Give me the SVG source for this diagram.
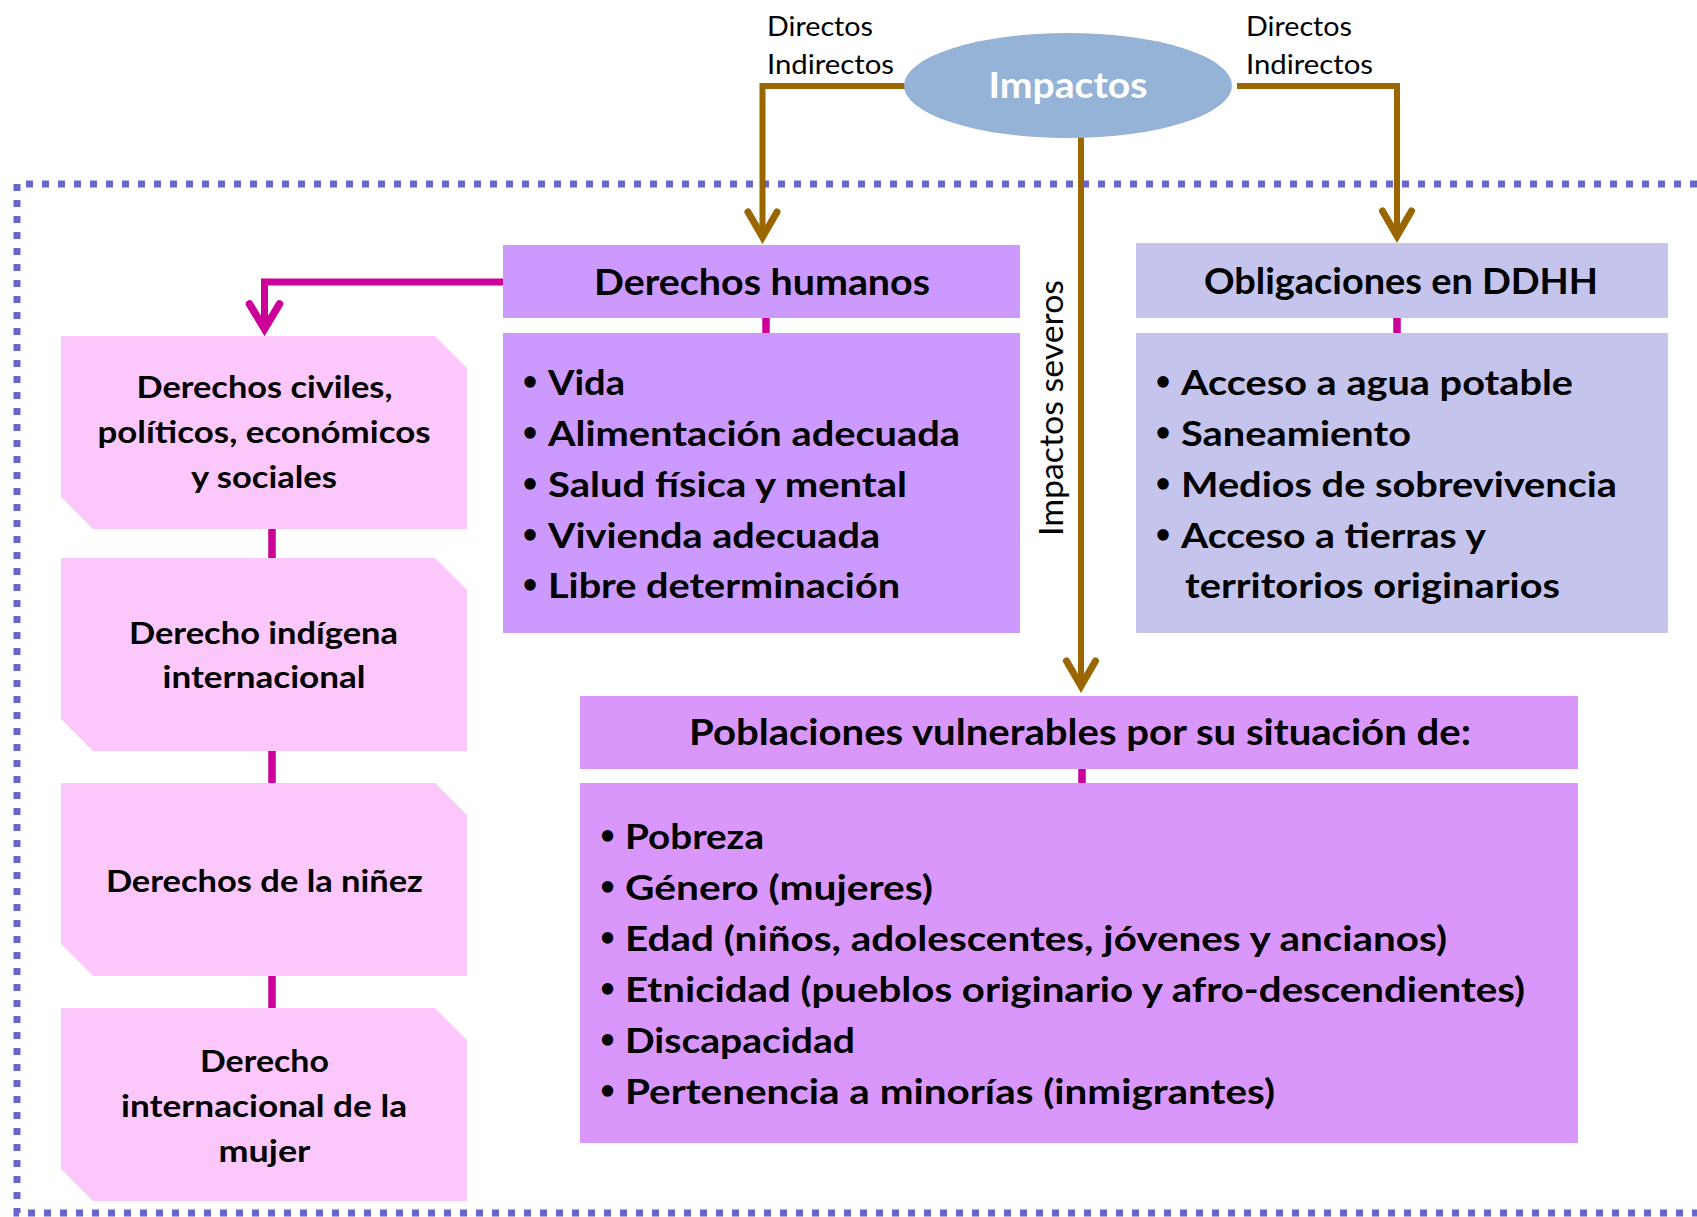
<svg xmlns="http://www.w3.org/2000/svg" width="1697" height="1217" viewBox="0 0 1697 1217">
<style>
.t{font-family:Lato,'Liberation Sans',sans-serif;fill:#000}
.bd{font-weight:700}
.hd{font-size:36px;font-weight:700;text-anchor:middle}
.li{font-size:35px;font-weight:700}
.bu{font-size:26px;font-weight:700}
.lb{font-size:30px;font-weight:700;text-anchor:middle}
.lab{font-size:26px}
.brown{fill:none;stroke:#996600;stroke-width:6}
.mag{fill:none;stroke:#CC0099;stroke-width:7}
.link{fill:none;stroke:#CC0099;stroke-width:7.5}
.lbox{fill:#FCC8FC}
</style>
<defs>
<marker id="arrB" markerUnits="userSpaceOnUse" markerWidth="60" markerHeight="60" refX="0" refY="0" orient="auto" overflow="visible">
<path d="M-25,-14.5 L0,0 L-25,14.5" fill="none" stroke="#996600" stroke-width="7" stroke-linecap="round" stroke-linejoin="miter"/>
</marker>
<marker id="arrM" markerUnits="userSpaceOnUse" markerWidth="60" markerHeight="60" refX="0" refY="0" orient="auto" overflow="visible">
<path d="M-25,-15 L0,0 L-25,15" fill="none" stroke="#CC0099" stroke-width="7.5" stroke-linecap="round" stroke-linejoin="miter"/>
</marker>
</defs>
<rect width="1697" height="1217" fill="#FFFFFF"/>
<path d="M1697,184 H17 V1213 H1697" fill="none" stroke="#6666CC" stroke-width="7" stroke-dasharray="7 9"/>

<g id="connectors">
<path class="brown" d="M905,86 H762.5 V237" marker-end="url(#arrB)"/>
<path class="brown" d="M1237,86 H1397 V236" marker-end="url(#arrB)"/>
<path class="brown" d="M1081,137 V686" marker-end="url(#arrB)"/>
<path class="mag" d="M503,282 H264.5 V329" marker-end="url(#arrM)"/>
<line class="link" x1="766" y1="317" x2="766" y2="334"/>
<line class="link" x1="1397" y1="317" x2="1397" y2="334"/>
<line class="link" x1="1082" y1="768" x2="1082" y2="784"/>
<line class="link" x1="272" y1="528" x2="272" y2="559"/>
<line class="link" x1="272" y1="750" x2="272" y2="784"/>
<line class="link" x1="272" y1="975" x2="272" y2="1009"/>
</g>

<g id="labels-directos">
<text class="t lab" x="767" y="36" textLength="106" lengthAdjust="spacingAndGlyphs">Directos</text>
<text class="t lab" x="767" y="74" textLength="127" lengthAdjust="spacingAndGlyphs">Indirectos</text>
<text class="t lab" x="1246" y="36" textLength="106" lengthAdjust="spacingAndGlyphs">Directos</text>
<text class="t lab" x="1246" y="74" textLength="127" lengthAdjust="spacingAndGlyphs">Indirectos</text>
<text class="t" transform="translate(1063,536) rotate(-90)" font-size="33" textLength="256" lengthAdjust="spacingAndGlyphs">Impactos severos</text>
</g>

<g id="impactos">
<ellipse cx="1068" cy="85.5" rx="164" ry="52.5" fill="#95B3D7"/>
<text class="t bd" x="1068" y="98" font-size="36" text-anchor="middle" fill="#FFFFFF" style="fill:#FFFFFF" textLength="159" lengthAdjust="spacingAndGlyphs">Impactos</text>
</g>

<g id="derechos-humanos">
<rect x="503" y="245" width="517" height="73" fill="#CC99FF"/>
<text class="t hd" x="762" y="295" textLength="336" lengthAdjust="spacingAndGlyphs">Derechos humanos</text>
</g>
<g id="derechos-humanos-lista">
<rect x="503" y="333" width="517" height="300" fill="#CC99FF"/>
<text class="t bu" x="522.5" y="390">•</text><text class="t li" x="548" y="395" textLength="77" lengthAdjust="spacingAndGlyphs">Vida</text>
<text class="t bu" x="522.5" y="441">•</text><text class="t li" x="548" y="446" textLength="412" lengthAdjust="spacingAndGlyphs">Alimentación adecuada</text>
<text class="t bu" x="522.5" y="492">•</text><text class="t li" x="548" y="497" textLength="359" lengthAdjust="spacingAndGlyphs">Salud física y mental</text>
<text class="t bu" x="522.5" y="543">•</text><text class="t li" x="548" y="548" textLength="332" lengthAdjust="spacingAndGlyphs">Vivienda adecuada</text>
<text class="t bu" x="522.5" y="593">•</text><text class="t li" x="548" y="598" textLength="352" lengthAdjust="spacingAndGlyphs">Libre determinación</text>
</g>

<g id="obligaciones">
<rect x="1136" y="243" width="532" height="75" fill="#C5C4EC"/>
<text class="t hd" x="1401" y="294" textLength="394" lengthAdjust="spacingAndGlyphs">Obligaciones en DDHH</text>
</g>
<g id="obligaciones-lista">
<rect x="1136" y="333" width="532" height="300" fill="#C5C4EC"/>
<text class="t bu" x="1155.5" y="390">•</text><text class="t li" x="1181" y="395" textLength="392" lengthAdjust="spacingAndGlyphs">Acceso a agua potable</text>
<text class="t bu" x="1155.5" y="441">•</text><text class="t li" x="1181" y="446" textLength="230" lengthAdjust="spacingAndGlyphs">Saneamiento</text>
<text class="t bu" x="1155.5" y="492">•</text><text class="t li" x="1181" y="497" textLength="436" lengthAdjust="spacingAndGlyphs">Medios de sobrevivencia</text>
<text class="t bu" x="1155.5" y="543">•</text><text class="t li" x="1181" y="548" textLength="305" lengthAdjust="spacingAndGlyphs">Acceso a tierras y</text>
<text class="t li" x="1185" y="598" textLength="375" lengthAdjust="spacingAndGlyphs">territorios originarios</text>
</g>

<g id="poblaciones">
<rect x="580" y="696" width="998" height="73" fill="#DA97FB"/>
<text class="t hd" x="1080" y="745" textLength="782" lengthAdjust="spacingAndGlyphs">Poblaciones vulnerables por su situación de:</text>
</g>
<g id="poblaciones-lista">
<rect x="580" y="783" width="998" height="360" fill="#DA97FB"/>
<text class="t bu" x="600" y="844">•</text><text class="t li" x="625" y="849" textLength="139" lengthAdjust="spacingAndGlyphs">Pobreza</text>
<text class="t bu" x="600" y="895">•</text><text class="t li" x="625" y="900" textLength="308" lengthAdjust="spacingAndGlyphs">Género (mujeres)</text>
<text class="t bu" x="600" y="946">•</text><text class="t li" x="625" y="951" textLength="822" lengthAdjust="spacingAndGlyphs">Edad (niños, adolescentes, jóvenes y ancianos)</text>
<text class="t bu" x="600" y="997">•</text><text class="t li" x="625" y="1002" textLength="900" lengthAdjust="spacingAndGlyphs">Etnicidad (pueblos originario y afro-descendientes)</text>
<text class="t bu" x="600" y="1048">•</text><text class="t li" x="625" y="1053" textLength="230" lengthAdjust="spacingAndGlyphs">Discapacidad</text>
<text class="t bu" x="600" y="1099">•</text><text class="t li" x="625" y="1104" textLength="650" lengthAdjust="spacingAndGlyphs">Pertenencia a minorías (inmigrantes)</text>
</g>

<g id="derechos-civiles">
<polygon class="lbox" points="61,336 435,336 467,368 467,529 93,529 61,497"/>
<text class="t lb" x="264.5" y="398" textLength="256" lengthAdjust="spacingAndGlyphs">Derechos civiles,</text>
<text class="t lb" x="264" y="443" textLength="333" lengthAdjust="spacingAndGlyphs">políticos, económicos</text>
<text class="t lb" x="264" y="488" textLength="146" lengthAdjust="spacingAndGlyphs">y sociales</text>
</g>
<g id="derecho-indigena">
<polygon class="lbox" points="61,558 435,558 467,590 467,751 93,751 61,719"/>
<text class="t lb" x="263.5" y="644" textLength="269" lengthAdjust="spacingAndGlyphs">Derecho indígena</text>
<text class="t lb" x="264" y="688" textLength="203" lengthAdjust="spacingAndGlyphs">internacional</text>
</g>
<g id="derechos-ninez">
<polygon class="lbox" points="61,783 435,783 467,815 467,976 93,976 61,944"/>
<text class="t lb" x="264.4" y="892" textLength="317" lengthAdjust="spacingAndGlyphs">Derechos de la niñez</text>
</g>
<g id="derecho-mujer">
<polygon class="lbox" points="61,1008 435,1008 467,1040 467,1201 93,1201 61,1169"/>
<text class="t lb" x="264.5" y="1072" textLength="129" lengthAdjust="spacingAndGlyphs">Derecho</text>
<text class="t lb" x="264" y="1117" textLength="286" lengthAdjust="spacingAndGlyphs">internacional de la</text>
<text class="t lb" x="264.5" y="1162" textLength="92" lengthAdjust="spacingAndGlyphs">mujer</text>
</g>
</svg>
